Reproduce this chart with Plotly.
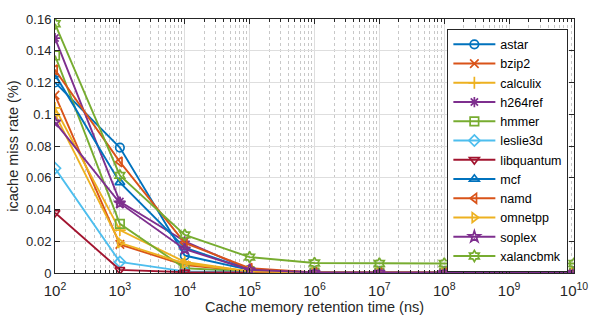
import plotly.graph_objects as go

retention_ns = [1e2, 1e3, 1e4, 1e5, 1e6, 1e7, 1e8, 1e9, 1e10]

astar      = [0.120, 0.079, 0.011, 0.002, 0.0004, 0.0003, 0.0003, 0.0003, 0.0003]
bzip2      = [0.112, 0.018, 0.005, 0.001, 0.0003, 0.0003, 0.0003, 0.0003, 0.0003]
calculix   = [0.104, 0.027, 0.007, 0.001, 0.0003, 0.0003, 0.0003, 0.0003, 0.0003]
h264ref    = [0.148, 0.045, 0.020, 0.002, 0.0004, 0.0003, 0.0003, 0.0003, 0.0003]
hmmer      = [0.137, 0.031, 0.003, 0.001, 0.0003, 0.0003, 0.0003, 0.0003, 0.0003]
leslie3d   = [0.066, 0.007, 0.001, 0.0005, 0.0003, 0.0003, 0.0003, 0.0003, 0.0003]
libquantum = [0.038, 0.002, 0.0005, 0.0003, 0.0002, 0.0002, 0.0002, 0.0002, 0.0002]
mcf        = [0.125, 0.057, 0.016, 0.002, 0.0004, 0.0003, 0.0003, 0.0003, 0.0003]
namd       = [0.128, 0.070, 0.019, 0.003, 0.0004, 0.0003, 0.0003, 0.0003, 0.0003]
omnetpp    = [0.100, 0.019, 0.006, 0.001, 0.0003, 0.0003, 0.0003, 0.0003, 0.0003]
soplex     = [0.095, 0.044, 0.015, 0.002, 0.0004, 0.0003, 0.0003, 0.0003, 0.0003]
xalancbmk  = [0.157, 0.0615, 0.024, 0.010, 0.0063, 0.006, 0.006, 0.006, 0.006]

series_names = ["astar", "bzip2", "calculix", "h264ref", "hmmer", "leslie3d",
                "libquantum", "mcf", "namd", "omnetpp", "soplex", "xalancbmk"]
series_values = [astar, bzip2, calculix, h264ref, hmmer, leslie3d,
                 libquantum, mcf, namd, omnetpp, soplex, xalancbmk]

x_tick_vals = [1e2, 1e3, 1e4, 1e5, 1e6, 1e7, 1e8, 1e9, 1e10]
x_tick_text = ["10<sup>%d</sup>" % e for e in range(2, 11)]
y_tick_vals = [0, 0.02, 0.04, 0.06, 0.08, 0.10, 0.12, 0.14, 0.16]
y_tick_text = ["0", "0.02", "0.04", "0.06", "0.08", "0.1", "0.12", "0.14", "0.16"]

colors = ["#0072BD", "#D95319", "#EDB120", "#7E2F8E", "#77AC30", "#4DBEEE",
          "#A2142F", "#0072BD", "#D95319", "#EDB120", "#7E2F8E", "#77AC30"]
symbols = ["circle-open", "x-thin-open", "cross-thin-open", "asterisk-open",
           "square-open", "diamond-open", "triangle-down-open", "triangle-up-open",
           "triangle-left-open", "triangle-right-open", "star-open", "hexagram-open"]

fig = go.Figure()
for name, vals, c, s in zip(series_names, series_values, colors, symbols):
    fig.add_trace(go.Scatter(
        x=retention_ns, y=vals, name=name, mode="lines+markers",
        line=dict(color=c, width=1.9),
        marker=dict(symbol=s, size=8.5, color=c, line=dict(color=c, width=1.7)),
    ))

minor_vals = [m * 10 ** e for e in range(2, 10) for m in range(2, 10)]
font_family = "Liberation Sans, Arial, sans-serif"
axis_col = "#262626"

fig.update_layout(
    width=600, height=324,
    margin=dict(l=50, r=22, t=18, b=51),
    paper_bgcolor="white", plot_bgcolor="white",
    font=dict(family=font_family, size=13, color=axis_col),
    showlegend=True,
    legend=dict(
        x=0.756, y=0.962, xanchor="left", yanchor="top",
        bgcolor="white", bordercolor="#262626", borderwidth=1,
        font=dict(size=12.5, color="#000000"),
        itemwidth=42,
        tracegroupgap=0,
    ),
)
fig.update_xaxes(
    type="log", range=[2, 10],
    tickmode="array", tickvals=x_tick_vals, ticktext=x_tick_text,
    ticks="inside", ticklen=5, tickcolor=axis_col,
    ticklabelstandoff=4,
    showline=True, linecolor=axis_col, linewidth=1, mirror="allticks",
    showgrid=True, gridcolor="#dedede", gridwidth=1,
    minor=dict(tickmode="array", tickvals=minor_vals, ticks="inside", ticklen=3,
               tickcolor=axis_col, showgrid=True, gridcolor="#c8c8c8",
               griddash="dot", gridwidth=1),
    zeroline=False,
    title=dict(text="Cache memory retention time (ns)", font=dict(size=14.5), standoff=2),
    tickfont=dict(size=15),
)
fig.update_yaxes(
    range=[0, 0.16],
    tickmode="array", tickvals=y_tick_vals, ticktext=y_tick_text,
    ticks="inside", ticklen=5, tickcolor=axis_col,
    showline=True, linecolor=axis_col, linewidth=1, mirror="allticks",
    showgrid=True, gridcolor="#dedede", gridwidth=1,
    zeroline=False,
    title=dict(text="icache miss rate (%)", font=dict(size=14.5), standoff=4),
    tickfont=dict(size=13),
)

fig.write_html("out.html")
